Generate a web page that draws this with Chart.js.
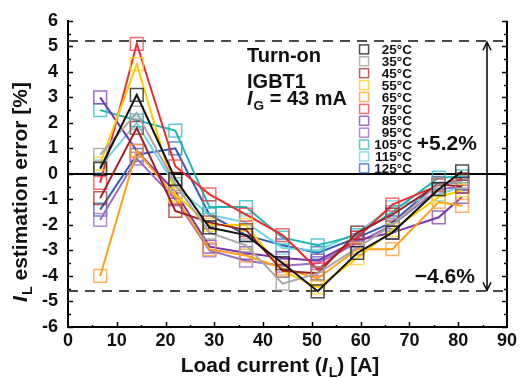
<!DOCTYPE html>
<html><head><meta charset="utf-8">
<script src="https://cdn.jsdelivr.net/npm/chart.js@4.4.0/dist/chart.umd.min.js"></script>
<style>html,body{margin:0;padding:0;background:#fff;overflow:hidden}</style>
</head><body>
<canvas id="c" width="523" height="378" style="width:523px;height:378px;display:block"></canvas>
<script>
// ---- data ----
const loadCurrent = [6.6, 14.1, 22.0, 29.0, 36.5, 44.0, 51.2, 59.3, 66.5, 76.0, 80.8];
const temperatures = ['25°C','35°C','45°C','55°C','65°C','75°C','85°C','95°C','105°C','115°C','125°C'];
const err25  = [0.2, 3.1, -0.2, -2.1, -2.4, -3.5, -4.6, -3.1, -2.3, -0.6, 0.1];
const err35  = [0.75, 2.4, -0.4, -2.3, -2.8, -4.3, -3.9, -2.9, -2.0, -0.4, -0.3];
const err45  = [-0.95, 1.8, -1.45, -1.9, -2.2, -3.8, -3.9, -2.3, -1.6, -0.4, -0.5];
const err55  = [0.4, 4.3, -0.8, -2.0, -2.0, -3.8, -4.45, -3.3, -2.2, -0.9, -0.65];
const err65  = [-4.0, 0.9, -0.9, -2.95, -3.2, -3.7, -4.1, -2.95, -2.95, -1.1, -1.25];
const err75  = [-0.35, 5.1, 0.3, -0.8, -1.6, -2.4, -3.75, -2.5, -1.2, -0.45, -0.2];
const err85  = [3.0, 0.9, -0.7, -2.85, -3.1, -3.3, -3.4, -2.6, -2.3, -1.7, -0.9];
const err95  = [-1.8, 0.6, -1.0, -3.0, -3.4, -3.6, -3.5, -2.7, -2.0, -0.6, -0.5];
const err105 = [2.5, 2.1, 1.7, -1.3, -1.3, -2.5, -2.8, -2.4, -1.5, -0.15, -0.1];
const err115 = [0.3, 2.0, -0.5, -1.6, -1.9, -2.9, -3.0, -2.3, -1.3, -0.8, -0.5];
const err125 = [-1.4, 0.75, 1.0, -1.6, -2.4, -2.8, -3.1, -2.5, -1.9, -0.35, -0.35];
const allErrors = [err25, err35, err45, err55, err65, err75, err85, err95, err105, err115, err125];
const boundLevels = [5.2, -4.6];
const boundLabels = ['+5.2%', '\u22124.6%'];
const yTicks = [-6, 6, 1];
const xTicks = [0, 90, 10];

// ---- styles ----
const lineColors = ['#111111','#a8a8a8','#9e1f24','#ffcc00','#ff9f1c','#ee2b2b','#7a35a8','#9b6cc4','#1fb5b5','#6fd3e3','#2f5cb8'];
const markColors = ['rgba(20,20,20,0.75)','rgba(160,160,160,0.8)','rgba(160,40,40,0.75)','rgba(255,205,40,0.8)','rgba(255,160,60,0.8)','rgba(240,60,70,0.75)','rgba(125,60,170,0.75)','rgba(160,110,200,0.8)','rgba(40,185,185,0.75)','rgba(120,215,230,0.8)','rgba(50,95,185,0.75)'];
const FONT = '"Liberation Sans", Arial, sans-serif';

function richWidth(ctx, parts, size){
  let w = 0;
  for (const p of parts){
    const s = p.sub ? size*0.68 : size;
    ctx.font = (p.italic?'italic ':'') + 'bold ' + s + 'px ' + FONT;
    w += ctx.measureText(p.t).width + (p.italic ? 1 : 0);
  }
  return w;
}
function drawRich(ctx, parts, x, y, size){
  let cx = x;
  for (const p of parts){
    const s = p.sub ? size*0.68 : size;
    ctx.font = (p.italic?'italic ':'') + 'bold ' + s + 'px ' + FONT;
    ctx.fillText(p.t, cx, y + (p.sub ? size*0.25 : 0));
    cx += ctx.measureText(p.t).width + (p.italic ? 1 : 0);
  }
}

const decor = {
  id: 'decor',
  beforeDatasetsDraw(chart){
    const {ctx, chartArea:a, scales:{x, y}} = chart;
    ctx.save();
    ctx.strokeStyle = '#4a4a4a'; ctx.lineWidth = 2; ctx.setLineDash([10, 7]);
    for (const v of boundLevels){
      const py = Math.round(y.getPixelForValue(v));
      ctx.beginPath(); ctx.moveTo(a.left, py); ctx.lineTo(a.right, py); ctx.stroke();
    }
    ctx.setLineDash([]);
    ctx.strokeStyle = '#000'; ctx.lineWidth = 2;
    const p0 = Math.round(y.getPixelForValue(0));
    ctx.beginPath(); ctx.moveTo(a.left, p0); ctx.lineTo(a.right, p0); ctx.stroke();
    ctx.restore();
  },
  afterDraw(chart){
    const {ctx, chartArea:a, scales:{x, y}} = chart;
    ctx.save();
    ctx.fillStyle = '#111'; ctx.strokeStyle = '#000';
    // right axis line
    ctx.lineWidth = 2;
    ctx.beginPath(); ctx.moveTo(a.right, a.top); ctx.lineTo(a.right, a.bottom+1); ctx.stroke();
    // inward ticks
    ctx.lineWidth = 1.5;
    for (let v = yTicks[0]; v <= yTicks[1] + 1e-9; v += 0.5){
      const py = Math.round(y.getPixelForValue(v)) + 0.5;
      const L = (Math.abs(v - Math.round(v)) < 1e-9) ? 5 : 3;
      ctx.beginPath(); ctx.moveTo(a.left, py); ctx.lineTo(a.left + L, py); ctx.stroke();
      ctx.beginPath(); ctx.moveTo(a.right, py); ctx.lineTo(a.right - L, py); ctx.stroke();
    }
    for (let v = xTicks[0] + 5; v < xTicks[1]; v += 5){
      const px = Math.round(x.getPixelForValue(v)) + 0.5;
      const L = (v % 10 === 0) ? 5 : 2;
      ctx.beginPath(); ctx.moveTo(px, a.bottom); ctx.lineTo(px, a.bottom - L); ctx.stroke();
    }
    // arrow
    const ax = x.getPixelForValue(85.9);
    const ay1 = y.getPixelForValue(boundLevels[0]) + 1, ay2 = y.getPixelForValue(boundLevels[1]) - 1;
    ctx.lineWidth = 1.5;
    ctx.beginPath(); ctx.moveTo(ax, ay1); ctx.lineTo(ax, ay2); ctx.stroke();
    ctx.beginPath(); ctx.moveTo(ax-4, ay1+8); ctx.lineTo(ax, ay1); ctx.lineTo(ax+4, ay1+8); ctx.stroke();
    ctx.beginPath(); ctx.moveTo(ax-4, ay2-8); ctx.lineTo(ax, ay2); ctx.lineTo(ax+4, ay2-8); ctx.stroke();
    // bound labels
    ctx.textAlign = 'left'; ctx.textBaseline = 'alphabetic';
    ctx.font = 'bold 21px ' + FONT;
    ctx.fillText(boundLabels[0], x.getPixelForValue(71.5), y.getPixelForValue(0.92));
    ctx.fillText(boundLabels[1], x.getPixelForValue(71.1), y.getPixelForValue(-4.27));
    // condition text
    const tx = x.getPixelForValue(36.7);
    ctx.font = 'bold 20px ' + FONT;
    ctx.fillText('Turn-on', tx, y.getPixelForValue(4.38));
    ctx.fillText('IGBT1', tx, y.getPixelForValue(3.38));
    drawRich(ctx, [{t:'I', italic:true}, {t:'G', sub:true}, {t:' = 43 mA'}], tx, y.getPixelForValue(2.69), 20);
    // legend
    const lx = x.getPixelForValue(60.7), rx = x.getPixelForValue(70.5);
    ctx.font = 'bold 13.5px ' + FONT;
    ctx.textAlign = 'right'; ctx.textBaseline = 'middle';
    temperatures.forEach((t, i) => {
      const py = y.getPixelForValue(4.88) + i*11.9;
      ctx.strokeStyle = markColors[i]; ctx.lineWidth = 1.5;
      ctx.strokeRect(lx - 4.5, py - 4.5, 9, 9);
      ctx.fillText(t, rx, py + 1);
    });
    // axis titles
    ctx.textAlign = 'left'; ctx.textBaseline = 'alphabetic';
    const xt = [{t:'Load current ('}, {t:'I', italic:true}, {t:'L', sub:true}, {t:') [A]'}];
    const wx = richWidth(ctx, xt, 21);
    drawRich(ctx, xt, 280 - wx/2, 372, 21);
    const yt = [{t:'I', italic:true}, {t:'L', sub:true}, {t:' estimation error [%]'}];
    const wy = richWidth(ctx, yt, 21);
    ctx.translate(27, 192); ctx.rotate(-Math.PI/2);
    drawRich(ctx, yt, -wy/2, 0, 21);
    ctx.restore();
  }
};

const datasets = allErrors.map((vals, i) => ({
  label: temperatures[i],
  data: loadCurrent.map((xv, j) => ({x: xv, y: vals[j]})),
  borderColor: lineColors[i],
  borderWidth: 2,
  pointStyle: 'rect',
  pointRadius: 9,
  pointBorderWidth: 1.5,
  pointBorderColor: markColors[i],
  pointBackgroundColor: 'rgba(0,0,0,0)',
  tension: 0,
  fill: false
}));

new Chart(document.getElementById('c'), {
  type: 'line',
  data: { datasets },
  options: {
    responsive: false,
    animation: false,
    devicePixelRatio: 1,
    layout: { padding: { left: 0, right: 16, top: 15, bottom: 0 } },
    plugins: { legend: { display: false }, tooltip: { enabled: false } },
    scales: {
      x: {
        type: 'linear', min: xTicks[0], max: xTicks[1],
        ticks: { stepSize: xTicks[2], padding: 3, color: '#111', font: { family: FONT, size: 18, weight: 'bold' }, maxRotation: 0 },
        grid: { display: false, drawTicks: false },
        border: { display: true, width: 2, color: '#000' },
        afterFit(s){ s.height = 51; }
      },
      y: {
        min: yTicks[0], max: yTicks[1],
        ticks: { stepSize: yTicks[2], padding: 10, color: '#111', font: { family: FONT, size: 18, weight: 'bold' } },
        grid: { display: false, drawTicks: false },
        border: { display: true, width: 2, color: '#000' },
        afterFit(s){ s.width = 68; }
      }
    }
  },
  plugins: [decor]
});
</script>
</body></html>
